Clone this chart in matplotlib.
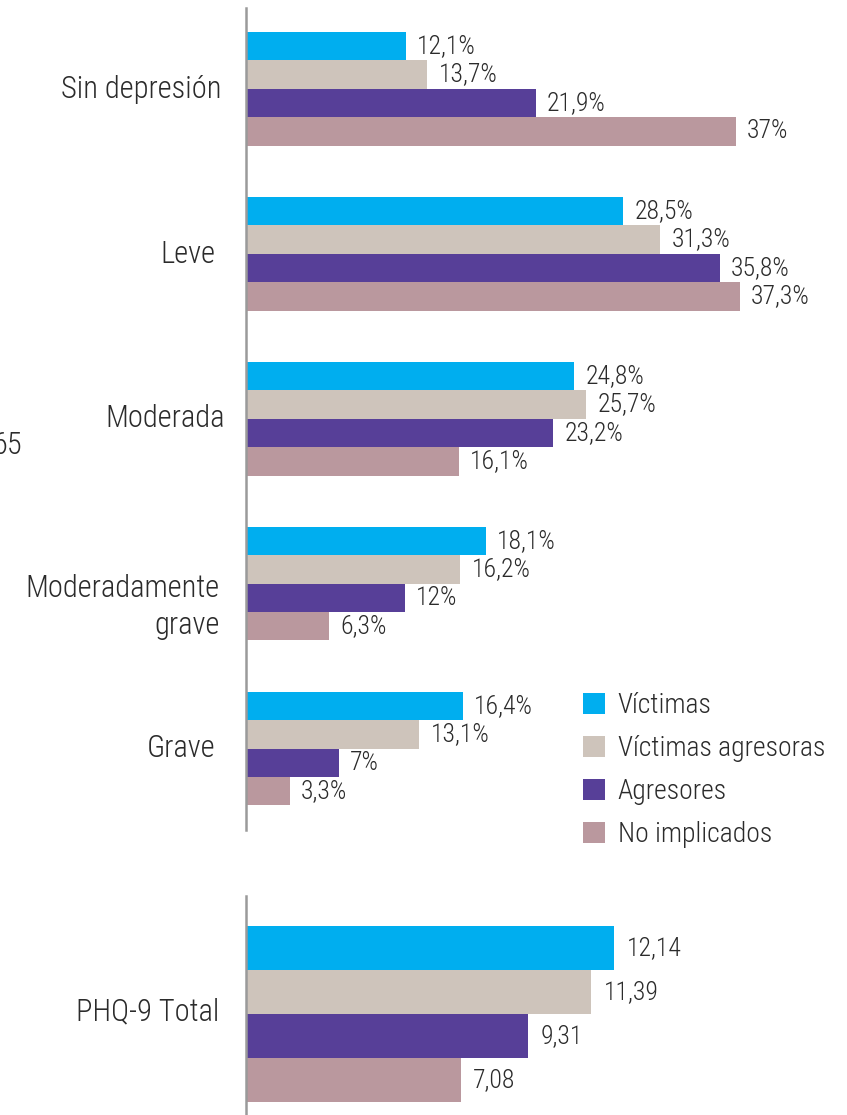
import numpy as np
import matplotlib
matplotlib.use('Agg')
import matplotlib.pyplot as plt
from matplotlib.patches import Patch
from matplotlib.transforms import ScaledTranslation

plt.rcParams['font.family'] = ['Roboto Condensed', 'Liberation Sans', 'DejaVu Sans']
plt.rcParams['font.weight'] = 'light'

categories = ['Sin depresión', 'Leve', 'Moderada', 'Moderadamente\ngrave', 'Grave']
series = ['Víctimas', 'Víctimas agresoras', 'Agresores', 'No implicados']
colors = ['#00AEEF', '#CEC4BB', '#573F98', '#BA989E']

victimas = [12.1, 28.5, 24.8, 18.1, 16.4]
victimas_agresoras = [13.7, 31.3, 25.7, 16.2, 13.1]
agresores = [21.9, 35.8, 23.2, 12, 7]
no_implicados = [37, 37.3, 16.1, 6.3, 3.3]

phq_label = 'PHQ-9 Total'
phq_values = [12.14, 11.39, 9.31, 7.08]

txt_color = '#2b2b2b'
spine_color = '#9a9a9a'

fig = plt.figure(figsize=(8.47, 11.15), dpi=100)

# top chart: depression categories
ax = fig.add_axes([0.2904, 0.2556, 0.7096, 0.7372])
data = [victimas, victimas_agresoras, agresores, no_implicados]
h = 0.1727
y = np.arange(len(categories))
for j, vals in enumerate(data):
    pos = y + (j - 1.5) * h
    ax.barh(pos, vals, height=h, color=colors[j], label=series[j])
    for p, v in zip(pos, vals):
        lab = f'{v:g}'.replace('.', ',') + '%'
        ax.annotate(lab, (v, p), xytext=(8, 0), textcoords='offset points',
                    va='center', ha='left', fontsize=18.5, color=txt_color)

ax.set_xlim(0, 45.4)
ax.set_ylim(4.494, -0.488)
ax.set_yticks(y)
ax.set_yticklabels(categories, fontsize=22, color=txt_color, ha='right',
                   multialignment='right', linespacing=1.35)
ax.tick_params(axis='y', length=0, pad=17)
ax.set_xticks([])
for s in ['top', 'right', 'bottom']:
    ax.spines[s].set_visible(False)
ax.spines['left'].set_color(spine_color)
ax.spines['left'].set_linewidth(1.8)

# small hand nudges of the category labels (pixels)
nudges = [(-1, 2), (-7, 2), (3, 3), (-3, -16), (-7, 3)]
for lbl, (dx, dy) in zip(ax.get_yticklabels(), nudges):
    lbl.set_transform(lbl.get_transform() +
                      ScaledTranslation(dx / 100, dy / 100, fig.dpi_scale_trans))

handles = [Patch(facecolor=c, edgecolor='none') for c in colors]
fig.legend(handles, series, loc='upper left', bbox_to_anchor=(583 / 847, 1 - 692 / 1115),
           frameon=False, fontsize=20, handlelength=0.8, handleheight=0.8,
           handletextpad=0.45, labelspacing=0.58, borderaxespad=0, borderpad=0,
           labelcolor=txt_color)

# bottom chart: PHQ-9 total
ax2 = fig.add_axes([0.2904, 0.0, 0.7096, 0.1964])
pos2 = np.arange(len(phq_values))
ax2.barh(pos2, phq_values, height=1.0, color=colors)
for p, v in zip(pos2, phq_values):
    lab = f'{v:g}'.replace('.', ',')
    ax2.annotate(lab, (v, p), xytext=(9, 0), textcoords='offset points',
                 va='center', ha='left', fontsize=18.5, color=txt_color)
ax2.set_xlim(0, 19.83)
ax2.set_ylim(3.795, -1.18)
ax2.set_yticks([1.5])
ax2.set_yticklabels([phq_label], fontsize=22, color=txt_color)
ax2.tick_params(axis='y', length=0, pad=19)
ax2.set_xticks([])
for s in ['top', 'right', 'bottom']:
    ax2.spines[s].set_visible(False)
ax2.spines['left'].set_color(spine_color)
ax2.spines['left'].set_linewidth(1.8)
for lbl in ax2.get_yticklabels():
    lbl.set_transform(lbl.get_transform() +
                      ScaledTranslation(0, 5 / 100, fig.dpi_scale_trans))

# cut-off text at left edge
fig.text(22 / 847, 1 - 445 / 1115, '65', fontsize=22, color=txt_color,
         ha='right', va='center')

fig.savefig('out.png', dpi=100)
